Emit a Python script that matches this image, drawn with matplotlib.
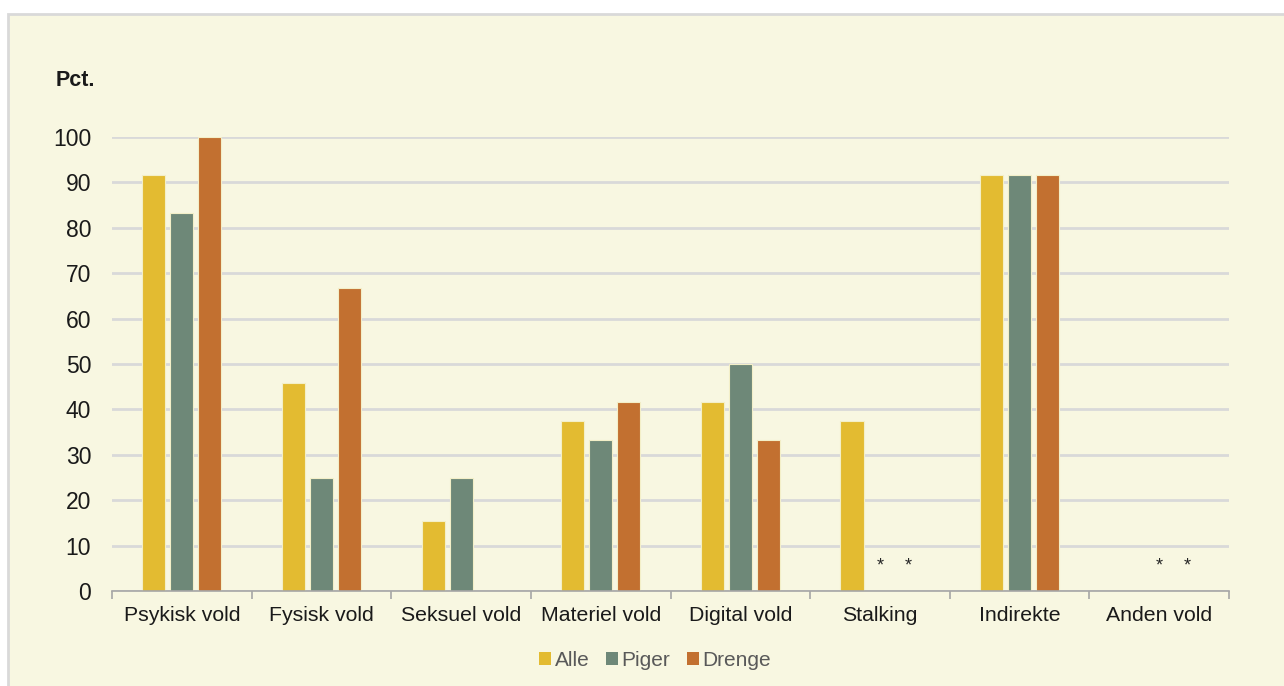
import matplotlib.pyplot as plt
import numpy as np
from matplotlib.patches import Rectangle

plt.rcParams['font.family'] = ['Liberation Sans', 'DejaVu Sans']

CATEGORIES = ['Psykisk vold', 'Fysisk vold', 'Seksuel vold', 'Materiel vold',
              'Digital vold', 'Stalking', 'Indirekte', 'Anden vold']
SERIES = ['Alle', 'Piger', 'Drenge']
# None = no bar; '*' = suppressed value
ALLE = [91.7, 45.8, 15.4, 37.5, 41.7, 37.5, 91.7, None]
PIGER = [83.3, 25.0, 25.0, 33.3, 50.0, '*', 91.7, '*']
DRENGE = [100.0, 66.7, None, 41.7, 33.3, '*', 91.7, '*']
COLOURS = ['#E3BB31', '#6E8878', '#C27030']
Y_TICKS = [0, 10, 20, 30, 40, 50, 60, 70, 80, 90, 100]

BG = '#F8F7E1'

fig = plt.figure(figsize=(12.84, 6.86), dpi=100)
fig.patch.set_facecolor('white')
fig.patches.append(Rectangle((8 / 1284, -0.01), 1.05, (686 - 14) / 686 + 0.01,
                             transform=fig.transFigure, facecolor=BG,
                             edgecolor='#D9D9D9', linewidth=2, zorder=-5))

ax = fig.add_axes([112 / 1284, (686 - 591) / 686, (1229 - 112) / 1284, (591 - 137) / 686])
ax.patch.set_alpha(0)

x = np.arange(len(CATEGORIES))
width = 0.165
offsets = [-0.2, 0.0, 0.2]
for vals, off, col, name in zip([ALLE, PIGER, DRENGE], offsets, COLOURS, SERIES):
    for i, v in enumerate(vals):
        if v is None:
            continue
        if v == '*':
            ax.text(x[i] + off, 5.5, '*', ha='center', va='center', fontsize=13, color='#262626')
            continue
        ax.bar(x[i] + off, v, width, color=col, edgecolor='#F3EFC8', linewidth=0.8, zorder=3)
    ax.bar([0], [0], 0, color=col, label=name)

ax.set_xlim(-0.5, len(CATEGORIES) - 0.5)
ax.set_ylim(0, 100)
ax.set_yticks(Y_TICKS)
ax.tick_params(axis='y', length=0, labelsize=16.5, pad=15, labelcolor='#1a1a1a')
ax.set_xticks(x)
ax.set_xticklabels(CATEGORIES, fontsize=15.3, color='#1a1a1a')
ax.set_xticks(np.arange(len(CATEGORIES) + 1) - 0.5, minor=True)
ax.tick_params(axis='x', which='major', length=0, pad=11)
ax.tick_params(axis='x', which='minor', length=6, color='#A6A6A6', width=1.2)
ax.yaxis.grid(True, color='#D9D9D9', linewidth=2, zorder=0)
ax.set_axisbelow(True)
for s in ['top', 'right', 'left']:
    ax.spines[s].set_visible(False)
ax.spines['bottom'].set_color('#A6A6A6')
ax.spines['bottom'].set_linewidth(1.2)
ax.spines['bottom'].set_zorder(4)

fig.text(56 / 1284, 1 - 80 / 686, 'Pct.', fontsize=15.5, fontweight='bold', va='center', ha='left', color='#1a1a1a')

leg = fig.legend(loc='center', bbox_to_anchor=(655 / 1284, 1 - 660 / 686), ncol=3, frameon=False,
                 fontsize=15, handlelength=0.6, handleheight=0.6, handletextpad=0.15,
                 columnspacing=0.8, labelcolor='#595959')

fig.savefig('out.png', dpi=100, facecolor=fig.get_facecolor())
